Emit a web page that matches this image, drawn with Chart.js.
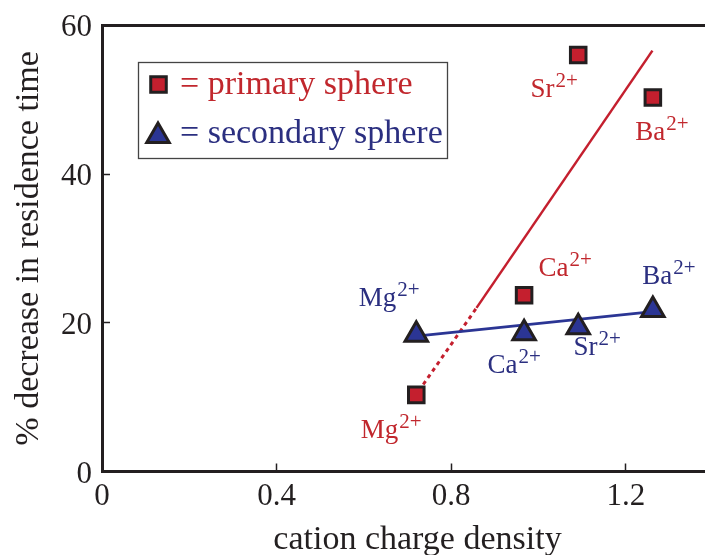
<!DOCTYPE html>
<html>
<head>
<meta charset="utf-8">
<script src="https://cdn.jsdelivr.net/npm/chart.js@4.4.0/dist/chart.umd.min.js"></script>
<style>
  html, body { margin: 0; padding: 0; background: #fff; overflow: hidden; }
  #quadro { width: 705px; height: 555px; overflow: hidden; }
</style>
</head>
<body>
<div id="quadro"><canvas id="grafico" width="733" height="555"></canvas></div>
<script>
const ions = ['Mg', 'Ca', 'Sr', 'Ba'];
const chargeDensity = [0.72, 0.967, 1.091, 1.262];
const primaryDecrease = [10.3, 23.7, 56.0, 50.3];
const secondaryDecrease = [18.4, 18.6, 19.4, 21.7];

// fit lines, [x, y] end points
const primaryFitDotted = [[0.736, 11.7], [0.858, 22.0]];
const primaryFitSolid = [[0.858, 22.0], [1.261, 56.6]];
const secondaryFit = [[0.72, 18.2], [1.262, 21.5]];

const xTicks = [0, 0.4, 0.8, 1.2];
const yTicks = [0, 20, 40, 60];
const X_MAX = 1.4456;

const RED = '#c41f2e';
const BLUE = '#2b3594';
const INK = '#231f20';
const SERIF = "'Liberation Serif', 'Times New Roman', serif";

const pontos = (xs, ys) => xs.map((x, i) => ({ x: x, y: ys[i] }));
const segmento = (pares) => pares.map(p => ({ x: p[0], y: p[1] }));

// label offsets in px from each marker: [dx of text centre, dy of baseline]
const primaryLabelPos = [[-25, 43], [41, -19], [-24, 42], [9, 43]];
const secondaryLabelPos = [[-27, -29], [-10, 40], [19, 28], [16, -26]];

const ionLabels = {
  id: 'ionLabels',
  afterDatasetsDraw(chart) {
    const ctx = chart.ctx;
    const sx = chart.scales.x, sy = chart.scales.y;
    const desenha = (ys, offs, cor) => {
      ions.forEach((ion, i) => {
        const px = sx.getPixelForValue(chargeDensity[i]) + offs[i][0];
        const py = sy.getPixelForValue(ys[i]) + offs[i][1];
        ctx.save();
        ctx.fillStyle = cor;
        ctx.textBaseline = 'alphabetic';
        ctx.textAlign = 'left';
        ctx.font = '27px ' + SERIF;
        const w1 = ctx.measureText(ion).width;
        ctx.font = '21px ' + SERIF;
        const w2 = ctx.measureText('2+').width;
        const x0 = px - (w1 + w2 + 1) / 2;
        ctx.font = '27px ' + SERIF;
        ctx.fillText(ion, x0, py);
        ctx.font = '21px ' + SERIF;
        ctx.fillText('2+', x0 + w1 + 1, py - 10);
        ctx.restore();
      });
    };
    desenha(primaryDecrease, primaryLabelPos, '#c1272d');
    desenha(secondaryDecrease, secondaryLabelPos, '#2b2f80');
  }
};

// key box inside the plot
const caixaLegenda = {
  id: 'caixaLegenda',
  afterDraw(chart) {
    const ctx = chart.ctx;
    ctx.save();
    ctx.fillStyle = '#fff';
    ctx.fillRect(138.5, 62.5, 309, 96);
    ctx.strokeStyle = '#444';
    ctx.lineWidth = 1.3;
    ctx.strokeRect(138.5, 62.5, 309, 96);

    ctx.lineWidth = 3;
    ctx.strokeStyle = INK;
    ctx.fillStyle = RED;
    Chart.helpers.drawPoint(ctx, { pointStyle: 'rect', radius: 11, borderWidth: 3, rotation: 0 }, 158.5, 84.5);
    ctx.fillStyle = BLUE;
    Chart.helpers.drawPoint(ctx, { pointStyle: 'triangle', radius: 13, borderWidth: 3, rotation: 0 }, 158, 136);

    ctx.font = '34px ' + SERIF;
    ctx.textBaseline = 'alphabetic';
    ctx.fillStyle = '#c1272d';
    ctx.fillText('= primary sphere', 180, 94);
    ctx.fillStyle = '#2b2f80';
    ctx.fillText('= secondary sphere', 180, 143);
    ctx.restore();
  }
};

const tickFont = { family: SERIF, size: 31 };

new Chart(document.getElementById('grafico'), {
  type: 'scatter',
  data: {
    datasets: [
      {
        label: 'primary sphere',
        data: pontos(chargeDensity, primaryDecrease),
        pointStyle: 'rect',
        pointRadius: 11,
        pointHoverRadius: 11,
        backgroundColor: RED,
        borderColor: INK,
        borderWidth: 3,
        order: 0
      },
      {
        label: 'secondary sphere',
        data: pontos(chargeDensity, secondaryDecrease),
        pointStyle: 'triangle',
        pointRadius: 13,
        pointHoverRadius: 13,
        backgroundColor: BLUE,
        borderColor: INK,
        borderWidth: 3,
        order: 0
      },
      {
        label: 'primary fit (extrapolated)',
        data: segmento(primaryFitDotted),
        showLine: true,
        pointRadius: 0,
        borderColor: RED,
        borderWidth: 3,
        borderDash: [4, 4],
        order: 2
      },
      {
        label: 'primary fit',
        data: segmento(primaryFitSolid),
        showLine: true,
        pointRadius: 0,
        borderColor: RED,
        borderWidth: 2.5,
        order: 2
      },
      {
        label: 'secondary fit',
        data: segmento(secondaryFit),
        showLine: true,
        pointRadius: 0,
        borderColor: BLUE,
        borderWidth: 2.8,
        order: 1
      }
    ]
  },
  options: {
    responsive: false,
    animation: false,
    layout: { padding: 0, autoPadding: false },
    plugins: {
      legend: { display: false },
      tooltip: { enabled: false },
      title: { display: false }
    },
    scales: {
      x: {
        type: 'linear',
        position: 'bottom',
        min: 0,
        max: X_MAX,
        afterBuildTicks: s => { s.ticks = xTicks.map(v => ({ value: v })); },
        afterFit: s => { s.height = 83.5; s.paddingLeft = 0; s.paddingRight = 0; },
        ticks: { font: tickFont, color: INK, padding: 15, maxRotation: 0, callback: v => String(v) },
        grid: { drawOnChartArea: false, drawTicks: true, tickLength: -8, tickWidth: 1.5, tickColor: INK },
        border: { color: INK, width: 3 },
        title: {
          display: true,
          text: 'cation charge density',
          font: { family: SERIF, size: 34, lineHeight: 0.88 },
          color: INK,
          padding: { top: 0, bottom: 0 }
        }
      },
      xTop: {
        type: 'linear',
        position: 'top',
        min: 0,
        max: X_MAX,
        afterFit: s => { s.height = 25.3; s.paddingLeft = 0; s.paddingRight = 0; },
        ticks: { display: false },
        grid: { display: false, drawTicks: false },
        border: { color: INK, width: 3 }
      },
      y: {
        type: 'linear',
        min: 0,
        max: 60,
        afterBuildTicks: s => { s.ticks = yTicks.map(v => ({ value: v })); },
        afterFit: s => { s.width = 102; s.paddingTop = 0; s.paddingBottom = 0; },
        ticks: { font: tickFont, color: INK, padding: 18, labelOffset: 3 },
        grid: { drawOnChartArea: false, drawTicks: true, tickLength: -8, tickWidth: 1.5, tickColor: INK },
        border: { color: INK, width: 3 },
        title: {
          display: true,
          text: '% decrease in residence time',
          font: { family: SERIF, size: 34, lineHeight: 1 },
          color: INK,
          padding: { top: 12, bottom: 0 }
        }
      }
    }
  },
  plugins: [ionLabels, caixaLegenda]
});
</script>
</body>
</html>
